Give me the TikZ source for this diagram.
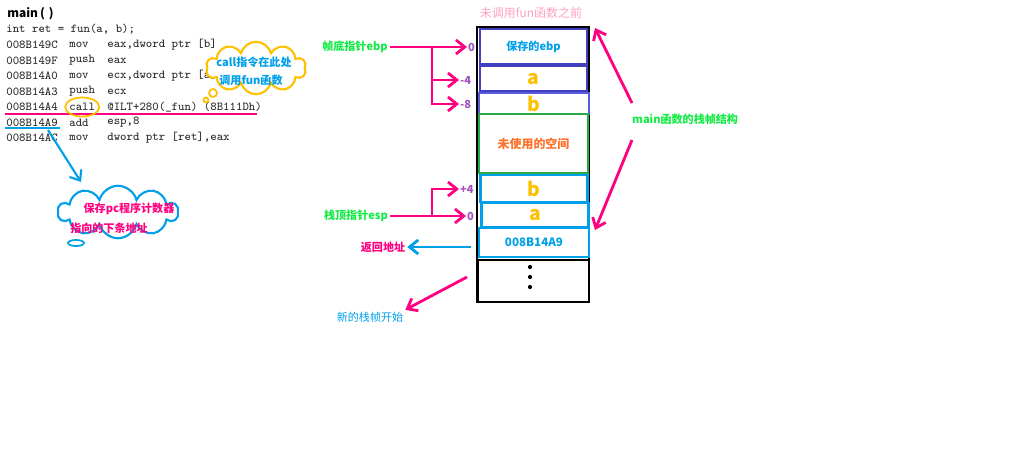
\documentclass[tikz,border=0pt]{standalone}
\usepackage{fontspec}
\newfontfamily\cjk{Noto Sans CJK SC}
\usetikzlibrary{arrows.meta,shapes.symbols}

\definecolor{pinkarrow}{RGB}{255,0,128}
\definecolor{labelgreen}{RGB}{20,235,70}
\definecolor{offpurple}{RGB}{160,80,190}
\definecolor{skyblue}{RGB}{0,160,233}
\definecolor{ygold}{RGB}{255,192,0}
\definecolor{orangetext}{RGB}{255,112,40}
\definecolor{frameblue}{RGB}{64,64,192}
\definecolor{lightframe}{RGB}{90,90,220}
\definecolor{framegreen}{RGB}{40,170,70}
\definecolor{titlepink}{RGB}{255,160,190}

\tikzset{
  lbl/.style={font=\cjk\bfseries\fontsize{6.3}{7.5}\selectfont, inner sep=1pt},
  thinlbl/.style={font=\cjk\fontsize{6.3}{7.5}\selectfont, inner sep=1pt},
  code/.style={anchor=west, inner sep=0pt, text=black!85, font=\ttfamily\fontsize{6.9}{8}\selectfont},
  offlbl/.style={lbl, text=offpurple, anchor=west, inner sep=0.5pt},
  cell/.style={draw, line width=1.4pt, minimum width=2.14cm, inner sep=0pt, lbl},
  big/.style={font=\cjk\bfseries\fontsize{11}{12}\selectfont, text=ygold},
  parrow/.style={draw=pinkarrow, line width=1.6pt, -{Straight Barb[length=5pt,width=8pt]}},
  barrow/.style={draw=skyblue, line width=1.6pt, -{Straight Barb[length=5pt,width=8pt]}}
}

\begin{document}
\begin{tikzpicture}[x=0.02cm,y=-0.02cm]
\useasboundingbox (0,0) rectangle (1024,457);

% listing
\node[anchor=west, inner sep=0pt, font=\cjk\bfseries\fontsize{6.8}{8}\selectfont] (mainhead) at (7,14) {main\,(\,\,)};
\node[code] (src) at (6,29) {int ret = fun(a, b);};
\foreach \addr/\op/\arg [count=\i] in {008B149C/mov/{eax,dword ptr [b]},
    008B149F/push/eax, 008B14A0/mov/{ecx,dword ptr [a]}, 008B14A3/push/ecx,
    008B14A4/call/{@ILT+280(\_fun) (8B111Dh)}, 008B14A9/add/{esp,8},
    008B14AC/mov/{dword ptr [ret],eax}} {
  \node[code] (addr\i) at (6,{29.5+15.5*\i}) {\addr};
  \node[code] (op\i) at (69,{29.5+15.5*\i}) {\op};
  \node[code] (arg\i) at (107,{29.5+15.5*\i}) {\arg};
}
\draw[pinkarrow, line width=1pt] (5,114) -- (257,114);
\draw[skyblue, line width=1pt] (5,128) -- (60,128);
\draw[ygold, line width=1pt] (op5) ellipse (0.34cm and 0.19cm);

% clouds
\node[cloud, cloud puffs=10, aspect=2.2, draw=ygold, fill=white, line width=1.2pt,
  minimum width=2cm, minimum height=1.05cm] (callcloud) at (256,68) {};
\draw[ygold, line width=1pt] (213,93) circle (0.08cm) (206,100) circle (0.05cm);
\node[lbl, text=skyblue] (callnote1) at (254,62) {call指令在此处};
\node[lbl, text=skyblue] (callnote2) at (251,80) {调用fun函数};

\node[cloud, cloud puffs=10, aspect=2.4, draw=skyblue, fill=white, line width=1.2pt,
  minimum width=2.4cm, minimum height=1.05cm] (pccloud) at (118,212) {};
\draw[skyblue, line width=1pt] (76,243) ellipse (0.16cm and 0.06cm);
\node[lbl, text=pinkarrow] (pcnote1) at (129,209) {保存pc程序计数器};
\node[lbl, text=pinkarrow] (pcnote2) at (109,228) {指向的下条地址};
\coordinate (pcfrom) at (48,130);
\draw[barrow, line width=1.2pt] (pcfrom) -- (81,182);

% stack
\node[font=\cjk\fontsize{6.8}{8}\selectfont, text=titlepink] (title) at (531,13) {未调用fun函数之前};
\draw[line width=1.4pt] (477,27) rectangle (589,302);
\node[cell, draw=frameblue, minimum height=0.7cm, text=skyblue] (savedebp) at (533.5,46.5) {保存的ebp};
\node[cell, draw=frameblue, minimum height=0.5cm, big] (olda) at (533.5,78.5) {a};
\node[cell, draw=lightframe, line width=1pt, minimum width=2.2cm, minimum height=0.42cm, big] (oldb) at (534,103.5) {b};
\node[cell, draw=framegreen, minimum width=2.18cm, minimum height=1.18cm, text=orangetext,
  font=\cjk\bfseries\fontsize{6.8}{8}\selectfont] (unused) at (533.5,143.5) {未使用的空间};
\node[cell, draw=skyblue, minimum height=0.54cm, big] (argb) at (534,188.5) {b};
\node[cell, draw=skyblue, minimum height=0.48cm, big] (arga) at (535,215) {a};
\node[cell, draw=skyblue, minimum width=2.2cm, minimum height=0.58cm, text=skyblue,
  font=\cjk\bfseries\fontsize{6.6}{8}\selectfont] (retaddr) at (534,242.5) {008B14A9};
\node[cell, draw=black, minimum width=2.22cm, minimum height=0.84cm] (newframe) at (533.5,281) {};
\foreach \d in {267,277,287}
  \fill (530,\d) circle (1.2pt);

% ebp
\node[lbl, text=labelgreen] (ebplbl) at (355,47) {帧底指针ebp};
\node[offlbl] (ebp0) at (467,47) {0};
\node[offlbl] (ebpm4) at (459,80) {-4};
\node[offlbl] (ebpm8) at (459,104) {-8};
\coordinate (ebpfork) at (432,47);
\draw[parrow] (ebplbl) -- (ebp0);
\draw[parrow] (ebpfork) |- (ebpm4);
\draw[parrow] (ebpfork) |- (ebpm8);

% esp
\node[lbl, text=labelgreen] (esplbl) at (356,216) {栈顶指针esp};
\node[offlbl] (esp0) at (466,216) {0};
\node[offlbl] (esp4) at (459,189) {+4};
\coordinate (espfork) at (432,216);
\draw[parrow] (esplbl) -- (esp0);
\draw[parrow] (espfork) |- (esp4);

\node[lbl, text=pinkarrow] (retlbl) at (383,247) {返回地址};
\draw[barrow, shorten <=4pt] (retaddr.west |- retlbl) -- (retlbl);

\node[thinlbl, text=skyblue] (newlbl) at (370,317) {新的栈帧开始};
\coordinate (nsfrom) at (467,277);
\draw[parrow] (nsfrom) -- (newlbl.north east);

% main frame
\node[lbl, text=labelgreen, anchor=west] (mainlbl) at (630,119) {main函数的栈帧结构};
\coordinate (frametop) at (595,28);
\coordinate (framebot) at (595,230);
\draw[parrow] ([shift={(2,-16)}]mainlbl.west) -- (frametop);
\draw[parrow] ([shift={(2,21)}]mainlbl.west) -- (framebot);
\end{tikzpicture}
\end{document}
